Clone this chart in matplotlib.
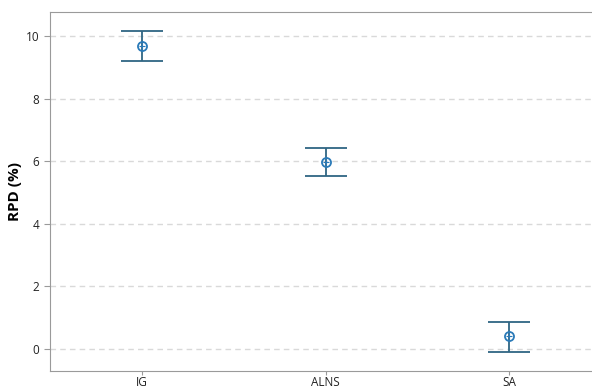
import matplotlib
matplotlib.use("Agg")
import matplotlib.pyplot as plt

plt.rcParams['font.family'] = ['Open Sans', 'DejaVu Sans']

methods = ['IG', 'ALNS', 'SA']
rpd_mean = [9.67, 5.97, 0.42]
ci_low = [9.22, 5.52, -0.10]
ci_high = [10.16, 6.42, 0.86]

fig = plt.figure(figsize=(5.92, 3.90), dpi=100)
ax = fig.add_axes([0.0845, 0.049, 0.9155, 0.92])

xs = range(len(methods))
for x, m, lo, hi in zip(xs, rpd_mean, ci_low, ci_high):
    ax.errorbar(x, m, yerr=[[m - lo], [hi - m]], fmt='none',
                ecolor='#2f6683', elinewidth=1.3, capsize=15, capthick=1.3, zorder=3)
ax.plot(list(xs), rpd_mean, 'o', ms=6.5, mfc='none', mec='#2a7ab8', mew=1.3, zorder=4)
ax.plot(list(xs), rpd_mean, '+', ms=5, color='#2a7ab8', mew=0.8, zorder=4)

ax.set_xlim(-0.5, 2.45)
ax.set_ylim(-0.7, 10.77)
ax.set_xticks(list(xs))
ax.set_xticklabels(methods)
ax.set_yticks([0, 2, 4, 6, 8, 10])
ax.yaxis.grid(True, linestyle=(0, (4, 3)), color='#d9d9d9', linewidth=1)
ax.set_axisbelow(True)
ax.set_ylabel('RPD (%)', fontsize=11, fontweight='bold', labelpad=3)

for s in ['left', 'bottom', 'top']:
    ax.spines[s].set_color('#9a9a9a')
ax.spines['right'].set_visible(False)
ax.tick_params(axis='both', colors='#9a9a9a', labelcolor='#222222', labelsize=8.5, length=4)
ax.tick_params(axis='x', length=3, pad=1)

fig.savefig('out.png', dpi=100)
